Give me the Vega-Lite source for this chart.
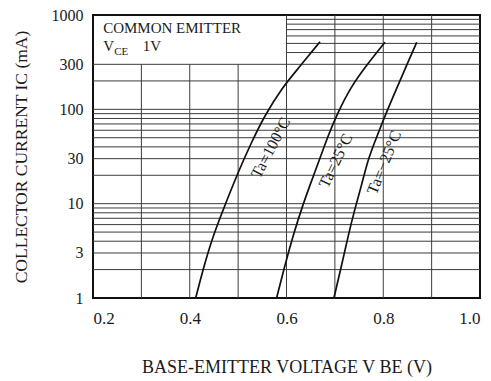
{
  "$schema": "https://vega.github.io/schema/vega-lite/v6.json",
  "width": 387,
  "height": 283,
  "autosize": {"type": "none"},
  "padding": {"left": 93, "top": 15, "right": 11, "bottom": 83},
  "background": "white",
  "config": {
    "font": "Liberation Serif",
    "view": {"stroke": "#111", "strokeWidth": 2},
    "axis": {"grid": false, "ticks": false, "domain": false, "labelColor": "#1a1a1a", "titleColor": "#1a1a1a", "labelFont": "Liberation Serif", "titleFont": "Liberation Serif", "titleFontWeight": "normal"}
  },
  "datasets": {
    "curves": [
      {"ta": "100", "v": 0.4123, "ic": 1},
      {"ta": "100", "v": 0.428, "ic": 2.06},
      {"ta": "100", "v": 0.4487, "ic": 4.65},
      {"ta": "100", "v": 0.4729, "ic": 9.68},
      {"ta": "100", "v": 0.5004, "ic": 21.8},
      {"ta": "100", "v": 0.5281, "ic": 45.4},
      {"ta": "100", "v": 0.5556, "ic": 87.1},
      {"ta": "100", "v": 0.5901, "ic": 167},
      {"ta": "100", "v": 0.6244, "ic": 272},
      {"ta": "100", "v": 0.6693, "ic": 521},
      {"ta": "25", "v": 0.5795, "ic": 1},
      {"ta": "25", "v": 0.5969, "ic": 2.24},
      {"ta": "25", "v": 0.614, "ic": 4.65},
      {"ta": "25", "v": 0.6314, "ic": 8.93},
      {"ta": "25", "v": 0.6486, "ic": 15.8},
      {"ta": "25", "v": 0.6693, "ic": 30.3},
      {"ta": "25", "v": 0.6864, "ic": 53.5},
      {"ta": "25", "v": 0.7071, "ic": 94.4},
      {"ta": "25", "v": 0.7313, "ic": 167},
      {"ta": "25", "v": 0.7658, "ic": 295},
      {"ta": "25", "v": 0.8036, "ic": 514},
      {"ta": "-25", "v": 0.698, "ic": 1},
      {"ta": "-25", "v": 0.7141, "ic": 2.24},
      {"ta": "-25", "v": 0.7278, "ic": 4.65},
      {"ta": "-25", "v": 0.7416, "ic": 8.93},
      {"ta": "-25", "v": 0.7554, "ic": 15.8},
      {"ta": "-25", "v": 0.7691, "ic": 30.3},
      {"ta": "-25", "v": 0.7881, "ic": 53.5},
      {"ta": "-25", "v": 0.8071, "ic": 94.4},
      {"ta": "-25", "v": 0.8278, "ic": 167},
      {"ta": "-25", "v": 0.8485, "ic": 295},
      {"ta": "-25", "v": 0.8692, "ic": 514}
    ],
    "vgrid": [
      {"v": 0.3, "lo": 1, "hi": 300},
      {"v": 0.4, "lo": 1, "hi": 300},
      {"v": 0.5, "lo": 1, "hi": 300},
      {"v": 0.6, "lo": 1, "hi": 1000},
      {"v": 0.7, "lo": 1, "hi": 1000},
      {"v": 0.8, "lo": 1, "hi": 1000},
      {"v": 0.9, "lo": 1, "hi": 1000}
    ],
    "hgrid": [
      {"ic": 2, "from": 0.2, "to": 1.0},
      {"ic": 3, "from": 0.2, "to": 1.0},
      {"ic": 4, "from": 0.2, "to": 1.0},
      {"ic": 5, "from": 0.2, "to": 1.0},
      {"ic": 6, "from": 0.2, "to": 1.0},
      {"ic": 7, "from": 0.2, "to": 1.0},
      {"ic": 8, "from": 0.2, "to": 1.0},
      {"ic": 9, "from": 0.2, "to": 1.0},
      {"ic": 10, "from": 0.2, "to": 1.0},
      {"ic": 20, "from": 0.2, "to": 1.0},
      {"ic": 30, "from": 0.2, "to": 1.0},
      {"ic": 40, "from": 0.2, "to": 1.0},
      {"ic": 50, "from": 0.2, "to": 1.0},
      {"ic": 60, "from": 0.2, "to": 1.0},
      {"ic": 70, "from": 0.2, "to": 1.0},
      {"ic": 80, "from": 0.2, "to": 1.0},
      {"ic": 90, "from": 0.2, "to": 1.0},
      {"ic": 100, "from": 0.2, "to": 1.0},
      {"ic": 200, "from": 0.2, "to": 1.0},
      {"ic": 300, "from": 0.2, "to": 1.0},
      {"ic": 400, "from": 0.6, "to": 1.0},
      {"ic": 500, "from": 0.6, "to": 1.0},
      {"ic": 600, "from": 0.6, "to": 1.0},
      {"ic": 700, "from": 0.6, "to": 1.0},
      {"ic": 800, "from": 0.6, "to": 1.0},
      {"ic": 900, "from": 0.6, "to": 1.0}
    ],
    "tlabels": [
      {"text": "Ta=100°C", "v": 0.5675, "ic": 39, "rot": -62},
      {"text": "Ta=25°C", "v": 0.702, "ic": 28.5, "rot": -64},
      {"text": "Ta=−25°C", "v": 0.802, "ic": 27.3, "rot": -68}
    ],
    "boxtext": [
      {"text": "COMMON EMITTER", "v": 0.221, "ic": 640},
      {"text": "V", "v": 0.221, "ic": 415},
      {"text": "1V", "v": 0.303, "ic": 415}
    ],
    "boxsub": [
      {"text": "CE", "v": 0.244, "ic": 375}
    ]
  },
  "encoding": {
    "x": {
      "type": "quantitative",
      "scale": {"domain": [0.2, 1.0], "nice": false, "zero": false},
      "axis": {"values": [0.2, 0.4, 0.6, 0.8, 1.0], "format": ".1f", "labelFont": "Liberation Serif", "labelFontSize": 17, "labelPadding": 12,
               "title": "BASE-EMITTER VOLTAGE V BE (V)", "titleFontSize": 18, "titlePadding": 32}
    },
    "y": {
      "type": "quantitative",
      "scale": {"type": "log", "domain": [1, 1000], "nice": false},
      "axis": {"values": [1, 3, 10, 30, 100, 300, 1000], "format": "d", "labelFont": "Liberation Serif", "labelFontSize": 16, "labelPadding": 10,
               "title": "COLLECTOR CURRENT IC  (mA)", "titleFontSize": 17.5, "titleX": -67, "titleY": 141.5, "titleAngle": -90, "titleBaseline": "alphabetic", "titleAlign": "center"}
    }
  },
  "layer": [
    {
      "data": {"name": "hgrid"},
      "mark": {"type": "rule", "color": "#3c3c3c", "strokeWidth": 1},
      "encoding": {"x": {"field": "from"}, "x2": {"field": "to"}, "y": {"field": "ic"}}
    },
    {
      "data": {"name": "vgrid"},
      "mark": {"type": "rule", "color": "#3c3c3c", "strokeWidth": 1},
      "encoding": {"x": {"field": "v"}, "y": {"field": "lo"}, "y2": {"field": "hi"}}
    },
    {
      "data": {"name": "curves"},
      "mark": {"type": "line", "color": "#111", "strokeWidth": 1.7, "interpolate": "basis"},
      "encoding": {"x": {"field": "v"}, "y": {"field": "ic"}, "detail": {"field": "ta"}, "order": {"field": "ic"}}
    },
    {
      "data": {"name": "tlabels"},
      "mark": {"type": "text", "fontSize": 16, "color": "#1a1a1a", "align": "center", "baseline": "middle"},
      "encoding": {"x": {"field": "v"}, "y": {"field": "ic"}, "text": {"field": "text"}, "angle": {"field": "rot", "type": "quantitative", "scale": null}}
    },
    {
      "data": {"name": "boxtext"},
      "mark": {"type": "text", "fontSize": 15, "color": "#1a1a1a", "align": "left", "baseline": "alphabetic"},
      "encoding": {"x": {"field": "v"}, "y": {"field": "ic"}, "text": {"field": "text"}}
    },
    {
      "data": {"name": "boxsub"},
      "mark": {"type": "text", "fontSize": 11, "color": "#1a1a1a", "align": "left", "baseline": "alphabetic"},
      "encoding": {"x": {"field": "v"}, "y": {"field": "ic"}, "text": {"field": "text"}}
    }
  ]
}
